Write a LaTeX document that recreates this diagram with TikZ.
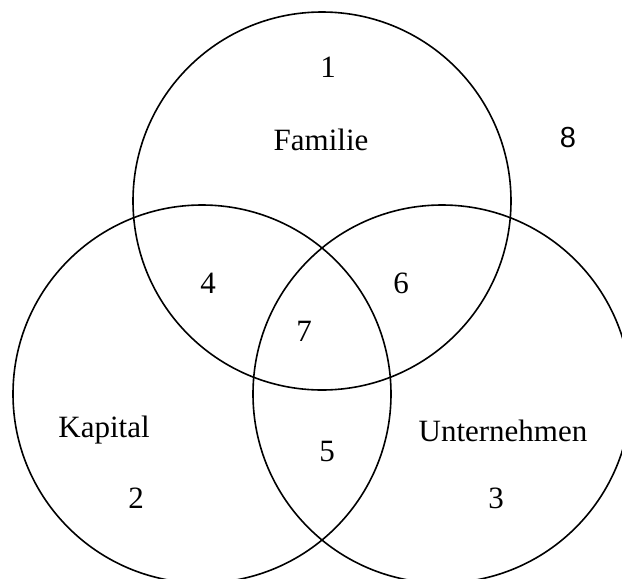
\documentclass[tikz,border=0pt]{standalone}
\usepackage{fontspec}
\setmainfont{Liberation Serif}
\newfontfamily\sansziffer{Liberation Sans}

\begin{document}
\begin{tikzpicture}[x=1pt,y=-1pt]
   \tikzstyle{menge}=[draw, circle, line width=1.6pt, minimum size=378pt, inner sep=0pt]
   \tikzstyle{every node}=[font=\fontsize{31}{36}\selectfont]
   \tikzstyle{feld}=[anchor=base, inner sep=0pt]

\useasboundingbox (0,0) rectangle (622,579);

% die drei Mengen
\node[menge] (familie) at (322,201) {};
\node[menge] (kapital) at (202,394) {};
\node[menge] (unternehmen) at (442,394) {};

% Bezeichnungen
\node[feld] (lfamilie) at (321,150) {Familie};
\node[feld] (lkapital) at (104,437) {Kapital};
\node[feld] (lunternehmen) at (503,441) {Unternehmen};

% Felder
\node[feld] (f1) at (328,77) {1};
\node[feld] (f2) at (136,508) {2};
\node[feld] (f3) at (496,508) {3};
\node[feld] (f4) at (208,293) {4};
\node[feld] (f5) at (327,461) {5};
\node[feld] (f6) at (401,293) {6};
\node[feld] (f7) at (304,341) {7};
\node[feld, font=\sansziffer\fontsize{29}{34}\selectfont] (f8) at (568,147) {8};

\end{tikzpicture}
\end{document}
